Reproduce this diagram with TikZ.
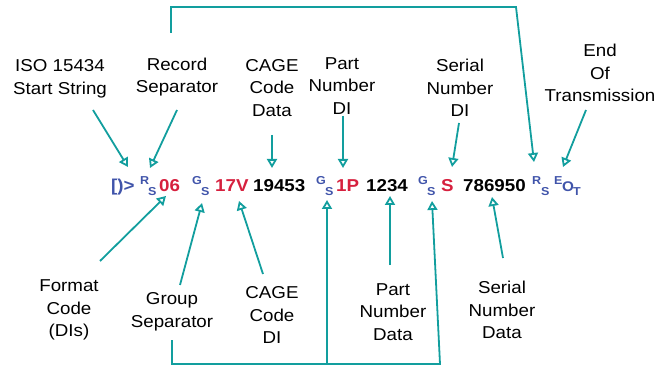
\documentclass[tikz,border=0pt]{standalone}
\usepackage{fontspec}
\setmainfont[FakeStretch=1.09]{Liberation Sans}
\usetikzlibrary{arrows.meta}
\definecolor{tealc}{RGB}{18,158,158}
\definecolor{bluec}{RGB}{64,84,170}
\definecolor{redc}{RGB}{214,32,62}
\tikzset{
  lbl/.style={align=center,inner sep=0pt,font=\fontsize{17.2}{22.5}\selectfont},
  big/.style={anchor=base west,inner sep=0pt,font=\fontsize{17.2}{20}\selectfont\bfseries},
  sml/.style={anchor=base west,inner sep=0pt,text=bluec,font=\fontsize{11.5}{13}\selectfont\bfseries},
  link/.style={draw=tealc,line width=1.8pt},
  arr/.style={link,-{Triangle[open,length=9pt,width=10pt]}}
}
\begin{document}
\begin{tikzpicture}[x=1pt,y=-1pt]
\useasboundingbox (0,0) rectangle (672,366);
% top labels
\node[lbl] (iso) at (60,79) {ISO 15434\\Start String};
\node[lbl] (rec) at (177,77) {Record\\Separator};
\node[lbl] (cagedata) at (272,88) {CAGE\\Code\\Data};
\node[lbl] (pndi) at (342,86) {Part\\Number\\DI};
\node[lbl] (sndi) at (460,88) {Serial\\Number\\DI};
\node[lbl] (eotl) at (600,73) {End\\Of\\Transmission};
% bottom labels
\node[lbl] (fmt) at (69,310) {Format\\Code\\(DIs)};
\node[lbl] (grp) at (172,312) {Group\\Separator};
\node[lbl] (cagedi) at (272,315) {CAGE\\Code\\DI};
\node[lbl] (pndata) at (393,312) {Part\\Number\\Data};
\node[lbl] (sndata) at (502,310) {Serial\\Number\\Data};
% data string
\node[big,text=bluec] (hdr) at (111,192) {[)>};
\node[sml] (rs1r) at (140,185) {R};
\node[sml] (rs1s) at (148,196) {S};
\node[big,text=redc] (fc) at (159,192) {06};
\node[sml] (gs1g) at (192,185) {G};
\node[sml] (gs1s) at (201,196) {S};
\node[big,text=redc] (cdi) at (215,192) {17V};
\node[big] (cdata) at (253,192) {19453};
\node[sml] (gs2g) at (316,185) {G};
\node[sml] (gs2s) at (325,196) {S};
\node[big,text=redc] (pdi) at (336,192) {1P};
\node[big] (pdata) at (366,192) {1234};
\node[sml] (gs3g) at (418,185) {G};
\node[sml] (gs3s) at (427,196) {S};
\node[big,text=redc] (sdi) at (441,192) {S};
\node[big] (sdata) at (463,192) {786950};
\node[sml] (rs2r) at (532,185) {R};
\node[sml] (rs2s) at (541,196) {S};
\node[sml] (eote) at (554,185) {E};
\node[sml,font=\fontsize{14}{16}\selectfont\bfseries] (eoto) at (562,192) {O};
\node[sml] (eott) at (573,196) {T};
% connector end points
\coordinate (iso-s) at (93,110);   \coordinate (t-hdr) at (128,167);
\coordinate (rec-s) at (177,110);  \coordinate (t-rs1) at (150,168);
\coordinate (cd-s) at (272,135);   \coordinate (t-cd) at (272,168);
\coordinate (pd-s) at (343,116);   \coordinate (t-pd) at (343,168);
\coordinate (sd-s) at (459,123);   \coordinate (t-sd) at (452,167);
\coordinate (rec-up) at (171,33);  \coordinate (brk-tr) at (516,7);
\coordinate (t-rs2) at (534,162);
\coordinate (eot-s) at (586,110);  \coordinate (t-eot) at (563,167);
\coordinate (fmt-s) at (100,261);  \coordinate (t-fc) at (166,196);
\coordinate (grp-s) at (180,285);  \coordinate (t-gs1) at (202,203);
\coordinate (cdi-s) at (263,274);  \coordinate (t-cdi) at (239,201);
\coordinate (grp-dn) at (172,340); \coordinate (brk-br) at (440,364);
\coordinate (brk-mid) at (327,364);
\coordinate (t-gs2) at (327,200);  \coordinate (t-gs3) at (432,201);
\coordinate (pnd-s) at (390,265);  \coordinate (t-pnd) at (390,196);
\coordinate (snd-s) at (503,258);  \coordinate (t-snd) at (492,197);
% top arrows
\draw[arr] (iso-s) -- (t-hdr);
\draw[arr] (rec-s) -- (t-rs1);
\draw[arr] (cd-s) -- (t-cd);
\draw[arr] (pd-s) -- (t-pd);
\draw[arr] (sd-s) -- (t-sd);
\draw[arr] (rec-up) |- (brk-tr) -- (t-rs2);
\draw[arr] (eot-s) -- (t-eot);
% bottom arrows
\draw[arr] (fmt-s) -- (t-fc);
\draw[arr] (grp-s) -- (t-gs1);
\draw[arr] (cdi-s) -- (t-cdi);
\draw[arr] (grp-dn) |- (brk-br) -- (t-gs3);
\draw[arr] (brk-mid) -- (t-gs2);
\draw[arr] (pnd-s) -- (t-pnd);
\draw[arr] (snd-s) -- (t-snd);
\end{tikzpicture}
\end{document}
